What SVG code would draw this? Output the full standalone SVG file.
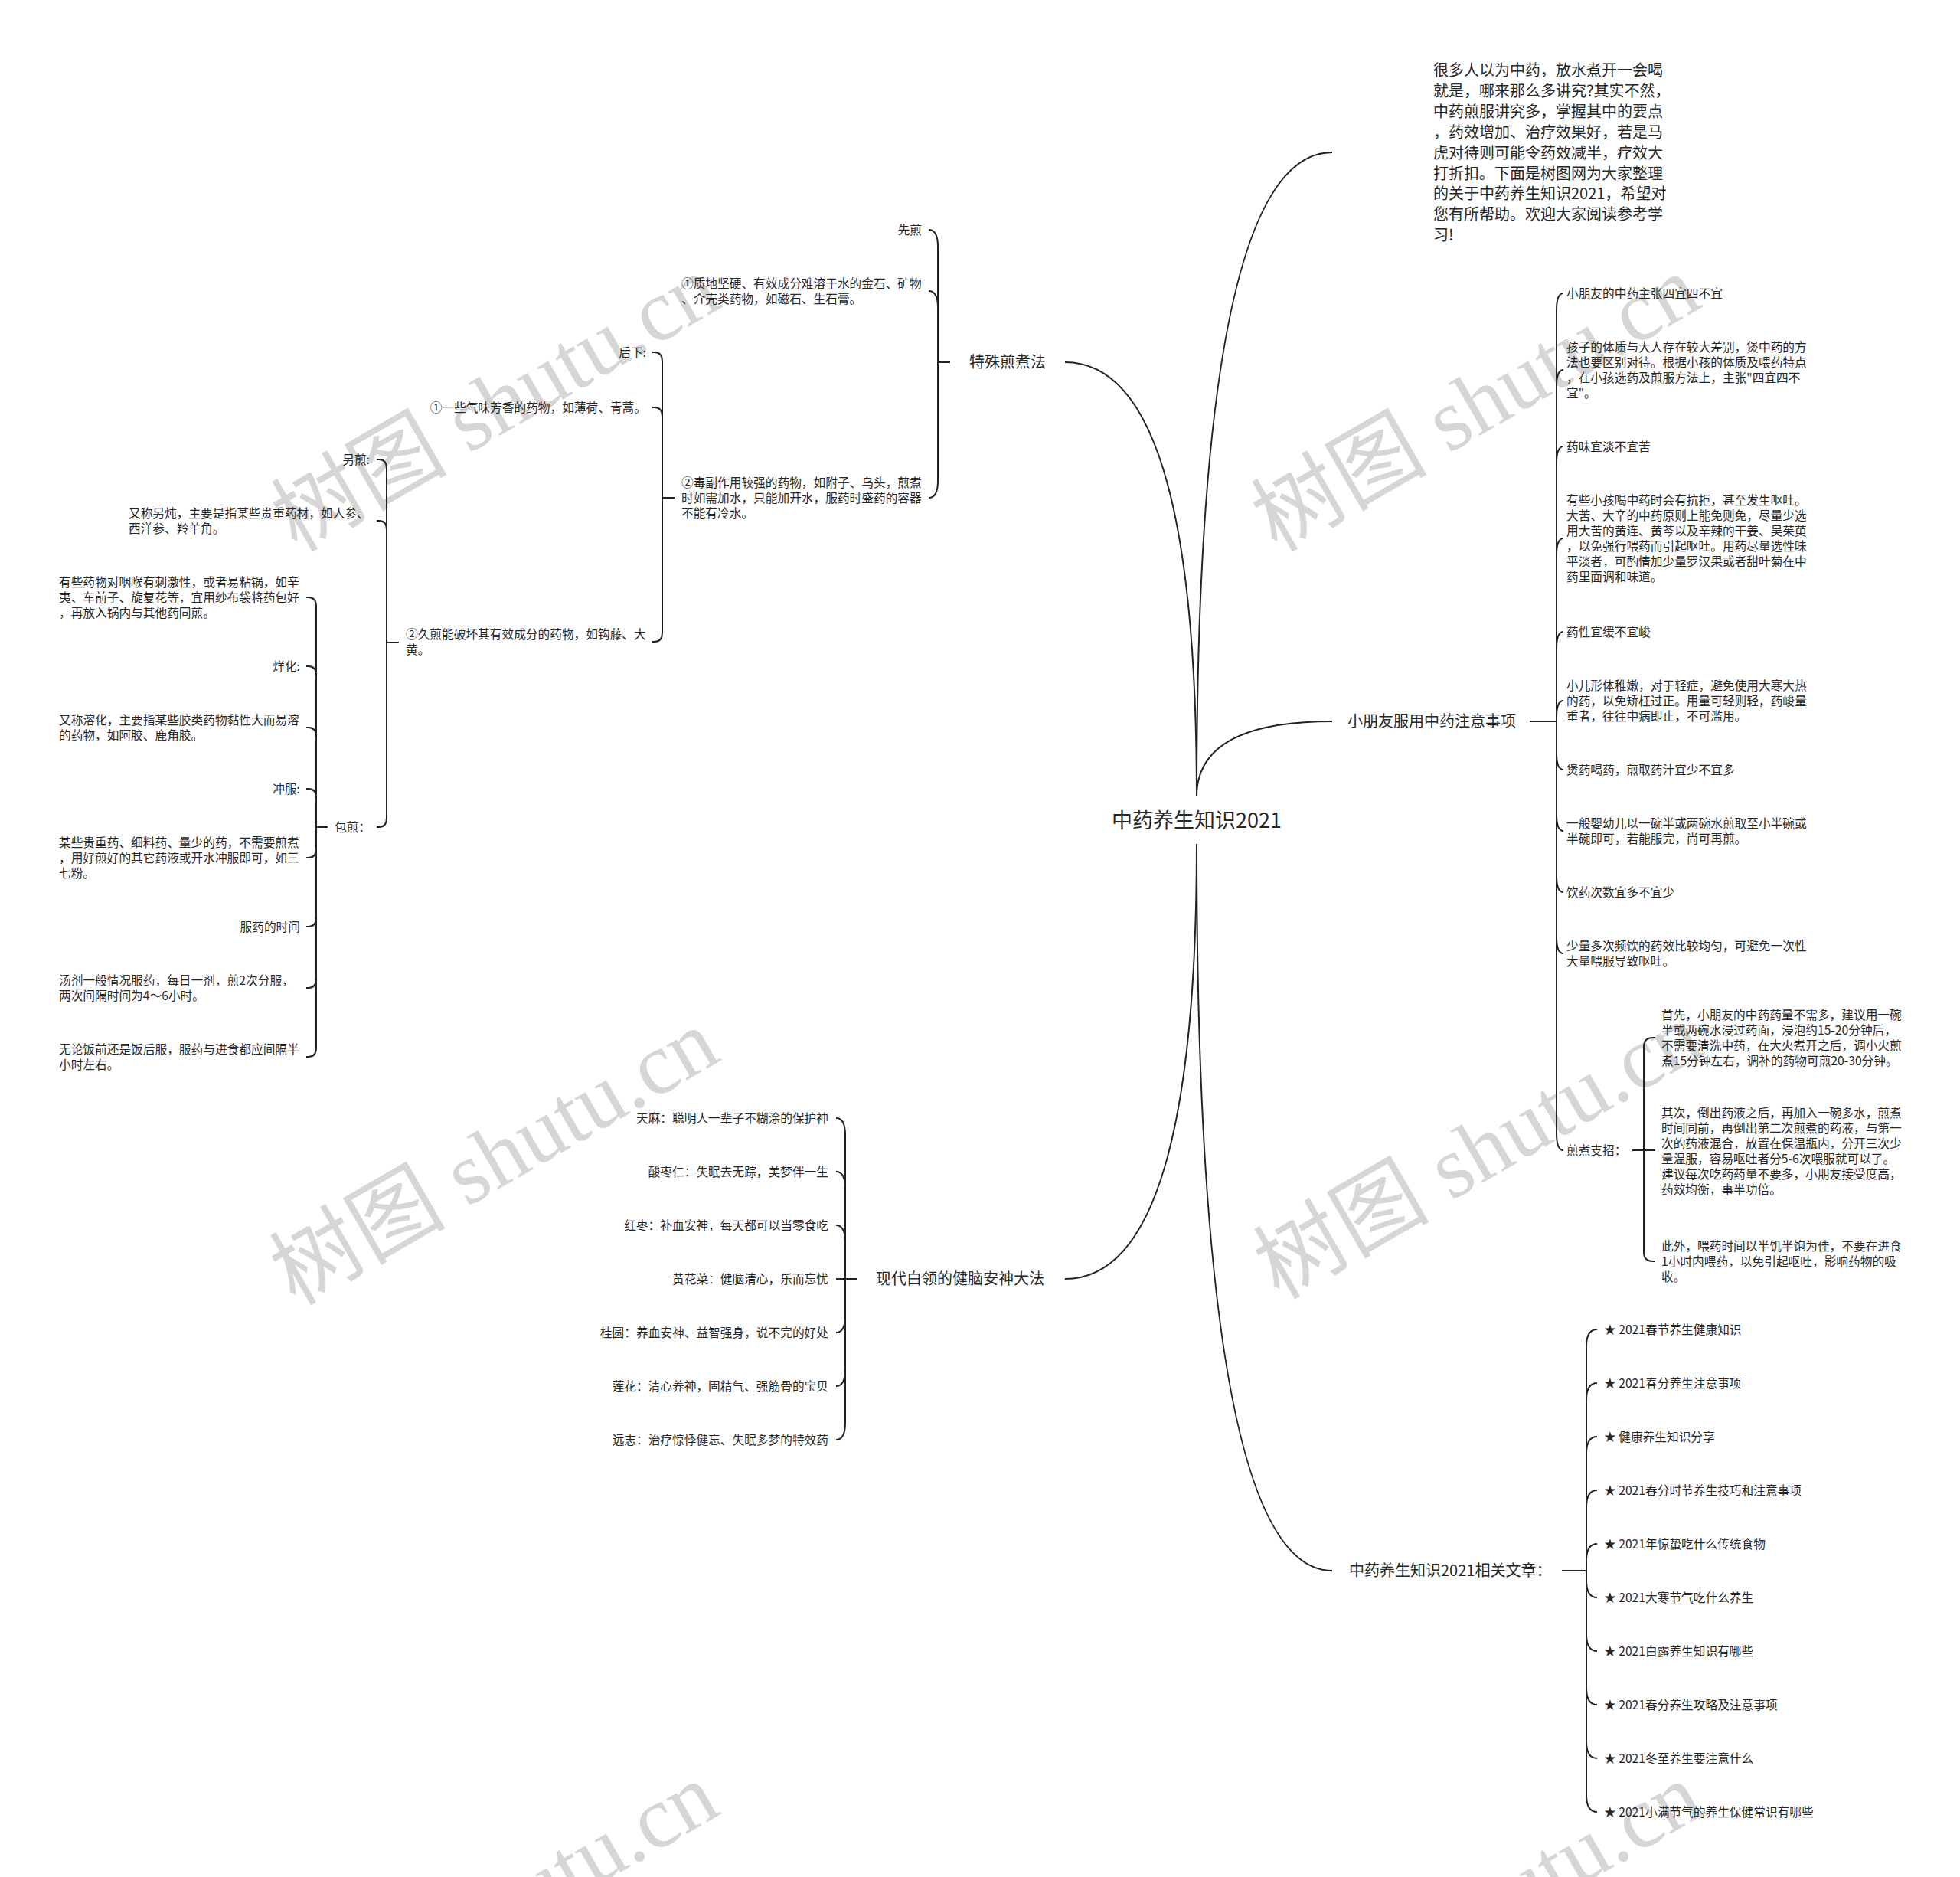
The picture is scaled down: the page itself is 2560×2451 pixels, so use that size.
<svg xmlns="http://www.w3.org/2000/svg" width="2560" height="2451" viewBox="0 0 2560 2451">
<style>
.t{font-family:"Noto Sans CJK SC","Noto Sans",sans-serif;fill:#262626}
.s{font-size:15.7px}
.m{font-size:20px}
.c{font-size:27px}
.e{text-anchor:end}
.ln{fill:none;stroke:#222;stroke-width:2}
.wm{font-family:"Liberation Serif","Noto Sans CJK SC",serif;font-size:115px;fill:#d6d6d6;text-anchor:middle}
</style>
<rect width="2560" height="2451" fill="#fff"/>
<g id="watermarks">
<text class="wm" transform="translate(647,526) rotate(-30)" x="0" y="40">树图 shutu.cn</text>
<text class="wm" transform="translate(1927,526) rotate(-30)" x="0" y="40">树图 shutu.cn</text>
<text class="wm" transform="translate(645,1510) rotate(-30)" x="0" y="40">树图 shutu.cn</text>
<text class="wm" transform="translate(1930,1502) rotate(-30)" x="0" y="40">树图 shutu.cn</text>
<text class="wm" transform="translate(645,2494) rotate(-30)" x="0" y="40">树图 shutu.cn</text>
<text class="wm" transform="translate(1930,2494) rotate(-30)" x="0" y="40">树图 shutu.cn</text>
</g>
<g id="connectors">
<path class="ln" d="M1563,1040 Q1563,199 1740,199"/>
<path class="ln" d="M1563,1040 Q1563,942 1740,942"/>
<path class="ln" d="M1563,1040 Q1563,473 1391,473"/>
<path class="ln" d="M1563,1102 Q1563,1670 1391,1670"/>
<path class="ln" d="M1563,1102 Q1563,2051 1740,2051"/>
<path class="ln" d="M1563,1040 V1040 M1563,1102 V1102"/>
<!-- right main bracket -->
<path class="ln" d="M1998,942 H2033"/>
<path class="ln" d="M2033,942 V405 Q2033,383 2042,383"/>
<path class="ln" d="M2033,942 V505 Q2033,483 2042,483"/>
<path class="ln" d="M2033,942 V605 Q2033,583 2042,583"/>
<path class="ln" d="M2033,942 V725 Q2033,703 2042,703"/>
<path class="ln" d="M2033,942 V847 Q2033,825 2042,825"/>
<path class="ln" d="M2033,942 V937 Q2033,915 2042,915"/>
<path class="ln" d="M2033,942 V983 Q2033,1005 2042,1005"/>
<path class="ln" d="M2033,942 V1063 Q2033,1085 2042,1085"/>
<path class="ln" d="M2033,942 V1143 Q2033,1165 2042,1165"/>
<path class="ln" d="M2033,942 V1223 Q2033,1245 2042,1245"/>
<path class="ln" d="M2033,942 V1480 Q2033,1502 2042,1502"/>
<!-- 煎煮支招 bracket -->
<path class="ln" d="M2132,1502 H2147"/>
<path class="ln" d="M2147,1502 V1367 Q2147,1355 2159,1355 H2162"/>
<path class="ln" d="M2147,1502 H2162"/>
<path class="ln" d="M2147,1502 V1635 Q2147,1647 2159,1647 H2162"/>
<!-- related bracket -->
<path class="ln" d="M2040,2051 H2072"/>
<path class="ln" d="M2072,2051 V1758 Q2072,1736 2086,1736"/>
<path class="ln" d="M2072,2051 V1828 Q2072,1806 2086,1806"/>
<path class="ln" d="M2072,2051 V1898 Q2072,1876 2086,1876"/>
<path class="ln" d="M2072,2051 V1968 Q2072,1946 2086,1946"/>
<path class="ln" d="M2072,2051 V2038 Q2072,2016 2086,2016"/>
<path class="ln" d="M2072,2051 V2064 Q2072,2086 2086,2086"/>
<path class="ln" d="M2072,2051 V2134 Q2072,2156 2086,2156"/>
<path class="ln" d="M2072,2051 V2204 Q2072,2226 2086,2226"/>
<path class="ln" d="M2072,2051 V2274 Q2072,2296 2086,2296"/>
<path class="ln" d="M2072,2051 V2344 Q2072,2366 2086,2366"/>
<!-- 特殊煎煮法 bracket -->
<path class="ln" d="M1241,473 H1225"/>
<path class="ln" d="M1225,473 V322 Q1225,300 1213,300"/>
<path class="ln" d="M1225,473 V402 Q1225,380 1213,380"/>
<path class="ln" d="M1225,473 V628 Q1225,650 1213,650"/>
<!-- 后下 bracket -->
<path class="ln" d="M881,650 H865"/>
<path class="ln" d="M865,650 V472 Q865,460 855,460 H852"/>
<path class="ln" d="M865,650 V544 Q865,532 855,532 H852"/>
<path class="ln" d="M865,650 V826 Q865,838 855,838 H852"/>
<!-- 另煎 bracket -->
<path class="ln" d="M521,839 H505"/>
<path class="ln" d="M505,839 V612 Q505,600 495,600 H492"/>
<path class="ln" d="M505,839 V692 Q505,680 495,680 H492"/>
<path class="ln" d="M505,839 V1068 Q505,1080 495,1080 H492"/>
<!-- 包煎 bracket -->
<path class="ln" d="M428,1080 H413"/>
<path class="ln" d="M413,1080 V792 Q413,780 403,780 H400"/>
<path class="ln" d="M413,1080 V882 Q413,870 403,870 H400"/>
<path class="ln" d="M413,1080 V962 Q413,950 403,950 H400"/>
<path class="ln" d="M413,1080 V1042 Q413,1030 403,1030 H400"/>
<path class="ln" d="M413,1080 V1108 Q413,1120 403,1120 H400"/>
<path class="ln" d="M413,1080 V1198 Q413,1210 403,1210 H400"/>
<path class="ln" d="M413,1080 V1278 Q413,1290 403,1290 H400"/>
<path class="ln" d="M413,1080 V1368 Q413,1380 403,1380 H400"/>
<!-- 健脑 bracket -->
<path class="ln" d="M1120,1670 H1104"/>
<path class="ln" d="M1104,1670 V1482 Q1104,1460 1092,1460"/>
<path class="ln" d="M1104,1670 V1552 Q1104,1530 1092,1530"/>
<path class="ln" d="M1104,1670 V1622 Q1104,1600 1092,1600"/>
<path class="ln" d="M1104,1670 H1092"/>
<path class="ln" d="M1104,1670 V1718 Q1104,1740 1092,1740"/>
<path class="ln" d="M1104,1670 V1788 Q1104,1810 1092,1810"/>
<path class="ln" d="M1104,1670 V1858 Q1104,1880 1092,1880"/>
</g>
<g id="root"><text class="t c" x="1563" y="1081" text-anchor="middle">中药养生知识2021</text></g>
<g id="intro"><text class="t m" x="1872">
<tspan x="1872" y="99">很多人以为中药，放水煮开一会喝</tspan>
<tspan x="1872" y="126">就是，哪来那么多讲究?其实不然，</tspan>
<tspan x="1872" y="153">中药煎服讲究多，掌握其中的要点</tspan>
<tspan x="1872" y="180">，药效增加、治疗效果好，若是马</tspan>
<tspan x="1872" y="207">虎对待则可能令药效减半，疗效大</tspan>
<tspan x="1872" y="234">打折扣。下面是树图网为大家整理</tspan>
<tspan x="1872" y="260">的关于中药养生知识2021，希望对</tspan>
<tspan x="1872" y="287">您有所帮助。欢迎大家阅读参考学</tspan>
<tspan x="1872" y="314">习!</tspan></text></g>
<g id="b-kids"><text class="t m" x="1760" y="949">小朋友服用中药注意事项</text></g>
<g id="k1"><text class="t s" x="2046" y="389">小朋友的中药主张四宜四不宜</text></g>
<g id="k2"><text class="t s"><tspan x="2046" y="459">孩子的体质与大人存在较大差别，煲中药的方</tspan><tspan x="2046" y="479">法也要区别对待。根据小孩的体质及喂药特点</tspan><tspan x="2046" y="499">，在小孩选药及煎服方法上，主张"四宜四不</tspan><tspan x="2046" y="519">宜"。</tspan></text></g>
<g id="k3"><text class="t s" x="2046" y="589">药味宜淡不宜苦</text></g>
<g id="k4"><text class="t s"><tspan x="2046" y="659">有些小孩喝中药时会有抗拒，甚至发生呕吐。</tspan><tspan x="2046" y="679">大苦、大辛的中药原则上能免则免，尽量少选</tspan><tspan x="2046" y="699">用大苦的黄连、黄芩以及辛辣的干姜、吴茱萸</tspan><tspan x="2046" y="719">，以免强行喂药而引起呕吐。用药尽量选性味</tspan><tspan x="2046" y="739">平淡者，可酌情加少量罗汉果或者甜叶菊在中</tspan><tspan x="2046" y="759">药里面调和味道。</tspan></text></g>
<g id="k5"><text class="t s" x="2046" y="831">药性宜缓不宜峻</text></g>
<g id="k6"><text class="t s"><tspan x="2046" y="901">小儿形体稚嫩，对于轻症，避免使用大寒大热</tspan><tspan x="2046" y="921">的药，以免矫枉过正。用量可轻则轻，药峻量</tspan><tspan x="2046" y="941">重者，往往中病即止，不可滥用。</tspan></text></g>
<g id="k7"><text class="t s" x="2046" y="1011">煲药喝药，煎取药汁宜少不宜多</text></g>
<g id="k8"><text class="t s"><tspan x="2046" y="1081">一般婴幼儿以一碗半或两碗水煎取至小半碗或</tspan><tspan x="2046" y="1101">半碗即可，若能服完，尚可再煎。</tspan></text></g>
<g id="k9"><text class="t s" x="2046" y="1171">饮药次数宜多不宜少</text></g>
<g id="k10"><text class="t s"><tspan x="2046" y="1241">少量多次频饮的药效比较均匀，可避免一次性</tspan><tspan x="2046" y="1261">大量喂服导致呕吐。</tspan></text></g>
<g id="k11"><text class="t s" x="2046" y="1508">煎煮支招：</text></g>
<g id="k11a"><text class="t s"><tspan x="2170" y="1331">首先，小朋友的中药药量不需多，建议用一碗</tspan><tspan x="2170" y="1351">半或两碗水浸过药面，浸泡约15-20分钟后，</tspan><tspan x="2170" y="1371">不需要清洗中药，在大火煮开之后，调小火煎</tspan><tspan x="2170" y="1391">煮15分钟左右，调补的药物可煎20-30分钟。</tspan></text></g>
<g id="k11b"><text class="t s"><tspan x="2170" y="1459">其次，倒出药液之后，再加入一碗多水，煎煮</tspan><tspan x="2170" y="1479">时间同前，再倒出第二次煎煮的药液，与第一</tspan><tspan x="2170" y="1499">次的药液混合，放置在保温瓶内，分开三次少</tspan><tspan x="2170" y="1519">量温服，容易呕吐者分5-6次喂服就可以了。</tspan><tspan x="2170" y="1539">建议每次吃药药量不要多，小朋友接受度高，</tspan><tspan x="2170" y="1559">药效均衡，事半功倍。</tspan></text></g>
<g id="k11c"><text class="t s"><tspan x="2170" y="1633">此外，喂药时间以半饥半饱为佳，不要在进食</tspan><tspan x="2170" y="1653">1小时内喂药，以免引起呕吐，影响药物的吸</tspan><tspan x="2170" y="1673">收。</tspan></text></g>
<g id="b-related"><text class="t m" x="1762" y="2058">中药养生知识2021相关文章：</text></g>
<g id="r1"><text class="t s" x="2095" y="1742">★ 2021春节养生健康知识</text></g>
<g id="r2"><text class="t s" x="2095" y="1812">★ 2021春分养生注意事项</text></g>
<g id="r3"><text class="t s" x="2095" y="1882">★ 健康养生知识分享</text></g>
<g id="r4"><text class="t s" x="2095" y="1952">★ 2021春分时节养生技巧和注意事项</text></g>
<g id="r5"><text class="t s" x="2095" y="2022">★ 2021年惊蛰吃什么传统食物</text></g>
<g id="r6"><text class="t s" x="2095" y="2092">★ 2021大寒节气吃什么养生</text></g>
<g id="r7"><text class="t s" x="2095" y="2162">★ 2021白露养生知识有哪些</text></g>
<g id="r8"><text class="t s" x="2095" y="2232">★ 2021春分养生攻略及注意事项</text></g>
<g id="r9"><text class="t s" x="2095" y="2302">★ 2021冬至养生要注意什么</text></g>
<g id="r10"><text class="t s" x="2095" y="2372">★ 2021小满节气的养生保健常识有哪些</text></g>
<g id="b-special"><text class="t m" x="1266" y="480">特殊煎煮法</text></g>
<g id="s1"><text class="t s e" x="1204" y="306">先煎</text></g>
<g id="s2"><text class="t s"><tspan x="890" y="376">①质地坚硬、有效成分难溶于水的金石、矿物</tspan><tspan x="890" y="396">、介壳类药物，如磁石、生石膏。</tspan></text></g>
<g id="s3"><text class="t s"><tspan x="890" y="636">②毒副作用较强的药物，如附子、乌头，煎煮</tspan><tspan x="890" y="656">时如需加水，只能加开水，服药时盛药的容器</tspan><tspan x="890" y="676">不能有冷水。</tspan></text></g>
<g id="s3a"><text class="t s e" x="844" y="466">后下:</text></g>
<g id="s3b"><text class="t s e" x="844" y="538">①一些气味芳香的药物，如薄荷、青蒿。</text></g>
<g id="s3c"><text class="t s"><tspan x="530" y="834">②久煎能破坏其有效成分的药物，如钩藤、大</tspan><tspan x="530" y="854">黄。</tspan></text></g>
<g id="s3c1"><text class="t s e" x="483" y="606">另煎:</text></g>
<g id="s3c2"><text class="t s"><tspan x="168" y="676">又称另炖，主要是指某些贵重药材，如人参、</tspan><tspan x="168" y="696">西洋参、羚羊角。</tspan></text></g>
<g id="s3c3"><text class="t s e" x="484" y="1086">包煎：</text></g>
<g id="p1"><text class="t s"><tspan x="77" y="766">有些药物对咽喉有刺激性，或者易粘锅，如辛</tspan><tspan x="77" y="786">夷、车前子、旋复花等，宜用纱布袋将药包好</tspan><tspan x="77" y="806">，再放入锅内与其他药同煎。</tspan></text></g>
<g id="p2"><text class="t s e" x="392" y="876">烊化:</text></g>
<g id="p3"><text class="t s"><tspan x="77" y="946">又称溶化，主要指某些胶类药物黏性大而易溶</tspan><tspan x="77" y="966">的药物，如阿胶、鹿角胶。</tspan></text></g>
<g id="p4"><text class="t s e" x="392" y="1036">冲服:</text></g>
<g id="p5"><text class="t s"><tspan x="77" y="1106">某些贵重药、细料药、量少的药，不需要煎煮</tspan><tspan x="77" y="1126">，用好煎好的其它药液或开水冲服即可，如三</tspan><tspan x="77" y="1146">七粉。</tspan></text></g>
<g id="p6"><text class="t s e" x="392" y="1216">服药的时间</text></g>
<g id="p7"><text class="t s"><tspan x="77" y="1286">汤剂一般情况服药，每日一剂，煎2次分服，</tspan><tspan x="77" y="1306">两次间隔时间为4～6小时。</tspan></text></g>
<g id="p8"><text class="t s"><tspan x="77" y="1376">无论饭前还是饭后服，服药与进食都应间隔半</tspan><tspan x="77" y="1396">小时左右。</tspan></text></g>
<g id="b-brain"><text class="t m" x="1144" y="1677">现代白领的健脑安神大法</text></g>
<g id="h1"><text class="t s e" x="1082" y="1466">天麻：聪明人一辈子不糊涂的保护神</text></g>
<g id="h2"><text class="t s e" x="1082" y="1536">酸枣仁：失眠去无踪，美梦伴一生</text></g>
<g id="h3"><text class="t s e" x="1082" y="1606">红枣：补血安神，每天都可以当零食吃</text></g>
<g id="h4"><text class="t s e" x="1082" y="1676">黄花菜：健脑清心，乐而忘忧</text></g>
<g id="h5"><text class="t s e" x="1082" y="1746">桂圆：养血安神、益智强身，说不完的好处</text></g>
<g id="h6"><text class="t s e" x="1082" y="1816">莲花：清心养神，固精气、强筋骨的宝贝</text></g>
<g id="h7"><text class="t s e" x="1082" y="1886">远志：治疗惊悸健忘、失眠多梦的特效药</text></g>
</svg>
